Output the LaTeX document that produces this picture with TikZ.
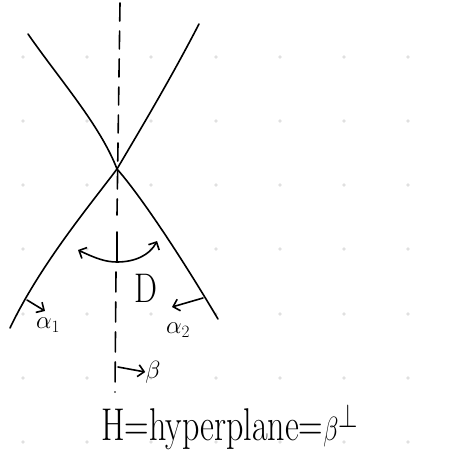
\documentclass[tikz,border=0pt]{standalone}
\usetikzlibrary{arrows.meta}
\begin{document}
\begin{tikzpicture}[x=1pt,y=-1pt,
  ink/.style={line width=1.6pt,line cap=round,line join=round,black},
  griddot/.style={fill=black!12,draw=none},
  lbl/.style={inner sep=0pt,font=\fontsize{36}{38}\selectfont},
  small/.style={inner sep=0pt,font=\fontsize{24}{26}\selectfont}]
\useasboundingbox (0,0) rectangle (450,455);
% grid dots
\foreach \gx in {23,87,151,216,280,344,408}
  \foreach \gy in {57,121,185,249,314,378,442}
    \fill[griddot] (\gx,\gy) circle (1.8);
% the two crossing curves
\draw[ink] (28,34) .. controls (60,80) and (100,125) .. (117,169)
           .. controls (140,195) and (180,255) .. (218,319);
\draw[ink] (199,24) .. controls (170,80) and (140,130) .. (117,169)
           .. controls (90,205) and (40,265) .. (10,328);
% dashed axis
\draw[ink,dash pattern=on 18pt off 10pt] (120,3) -- (117,215);
\draw[ink] (117,232) -- (117,262);
\draw[ink,dash pattern=on 20pt off 10pt] (116,272) -- (115,392);
% angle arc with arrows
\draw[ink,{Straight Barb[length=6pt]}-{Straight Barb[length=6pt]}] (78,250) .. controls (95,258) and (105,262) .. (117,262) .. controls (135,262) and (150,255) .. (157,241);
% D
\node[lbl] (D) at (146,288) {\scalebox{0.9}[1.15]{D}};
% alpha labels with arrows
\coordinate (a1s) at (27,300);
\coordinate (a1e) at (45,311);
\draw[ink,-{Straight Barb[length=6pt]}] (a1s) -- (a1e);
\node[small] (a1) at (48,325) {$\alpha_1$};
\coordinate (a2s) at (203,298);
\coordinate (a2e) at (172,307);
\draw[ink,-{Straight Barb[length=6pt]}] (a2s) -- (a2e);
\node[small] (a2) at (178,330) {$\alpha_2$};
% beta arrow
\node[small,font=\fontsize{28}{30}\selectfont] (b) at (153,372) {$\beta$};
\coordinate (bs) at (118,367);
\draw[ink,-{Straight Barb[length=6pt]}] (bs) -- (b.west);
% hyperplane text
\node[lbl,anchor=base west,font=\fontsize{34}{36}\selectfont] (H) at (101,440) {\scalebox{1}[1.35]{H=hyperplane=$\beta^{\perp}$}};
\end{tikzpicture}
\end{document}
